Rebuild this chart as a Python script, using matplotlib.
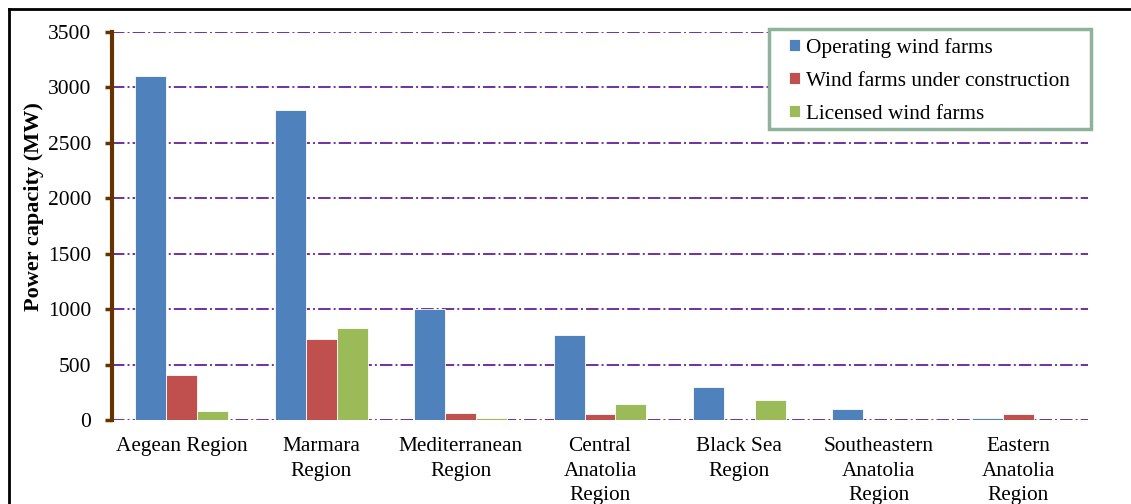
import matplotlib.pyplot as plt
import numpy as np
from matplotlib.lines import Line2D
from matplotlib.patches import Rectangle

plt.rcParams['font.family'] = ['Liberation Serif', 'DejaVu Serif']

# Data
regions = ['Aegean Region', 'Marmara\nRegion', 'Mediterranean\nRegion',
           'Central\nAnatolia\nRegion', 'Black Sea\nRegion',
           'Southeastern\nAnatolia\nRegion', 'Eastern\nAnatolia\nRegion']
operating = [3100, 2800, 1000, 765, 300, 95, 15]
under_construction = [410, 730, 65, 55, 0, 0, 55]
licensed = [85, 830, 15, 140, 180, 0, 0]

series = [('Operating wind farms', operating, '#4F81BD'),
          ('Wind farms under construction', under_construction, '#C0504D'),
          ('Licensed wind farms', licensed, '#9BBB59')]

W, H = 1131, 504
fig = plt.figure(figsize=(W / 100, H / 100), dpi=100)
ax = fig.add_axes([112 / W, 1 - 420 / H, (1088 - 112) / W, (420 - 32) / H])

x = np.arange(len(regions))
bw = 0.222
for i, (name, vals, col) in enumerate(series):
    ax.bar(x + (i - 1) * bw, vals, bw, color=col, edgecolor='white',
           linewidth=0.6, label=name, zorder=3)

ax.set_xlim(-0.5, len(regions) - 0.5)
ax.set_ylim(0, 3500)
ax.set_yticks(np.arange(0, 3501, 500))
ax.set_xticks(x)
ax.set_xticklabels(regions, fontsize=15.3, linespacing=1.42)
ax.tick_params(axis='x', length=0, pad=12)
ax.tick_params(axis='y', labelsize=15.5, length=5, width=2.5, color='#663300',
               direction='out', pad=10)

ax.grid(axis='y', color='#7030A0', linestyle='-.', linewidth=1.4, zorder=1)
ax.grid(axis='x', visible=False)
for s in ['top', 'right', 'bottom']:
    ax.spines[s].set_visible(False)
ax.spines['left'].set_color('#663300')
ax.spines['left'].set_linewidth(3)

ax.set_ylabel('Power capacity (MW)', fontsize=16, fontweight='bold')
ax.yaxis.set_label_coords((44 - 112) / (1088 - 112), 0.55)

# legend without its own frame, boxed by a rectangle like the original
leg = fig.legend(loc='upper left', bbox_to_anchor=(789 / W, 1 - 38 / H),
                 fontsize=15.3, frameon=False,
                 handlelength=0.5, handleheight=0.5, handletextpad=0.3,
                 borderpad=0, labelspacing=0.66, borderaxespad=0)
fig.add_artist(Rectangle((769 / W, 1 - 129 / H), (1091 - 769) / W, 100 / H,
                         transform=fig.transFigure, facecolor='white',
                         edgecolor='#8FB39A', linewidth=2.5, zorder=1))
leg.set_zorder(5)

# outer frame of the original figure
fig.add_artist(Line2D([9 / W, 9 / W], [0, 1 - 9 / H], color='black', linewidth=2,
                      transform=fig.transFigure))
fig.add_artist(Line2D([9 / W, 1], [1 - 9 / H, 1 - 9 / H], color='black', linewidth=2,
                      transform=fig.transFigure))

fig.savefig('out.png', dpi=100)
